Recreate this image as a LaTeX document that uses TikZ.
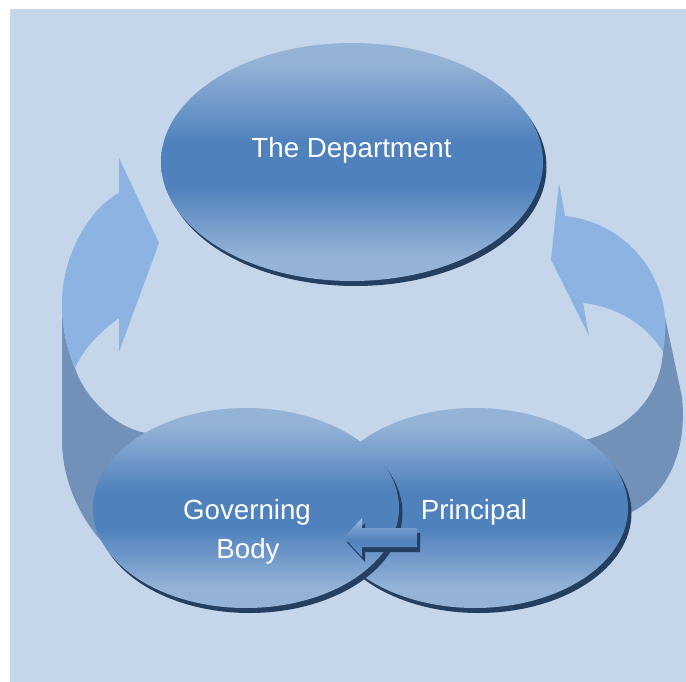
\documentclass[tikz,border=0pt]{standalone}
\usepackage{fontspec}
\setmainfont{Liberation Sans}
\usetikzlibrary{shapes.geometric}
\definecolor{bgc}{HTML}{C5D5EA}
\definecolor{arrL}{HTML}{8DB3E2}
\definecolor{arrD}{HTML}{7191B8}
\definecolor{ellL}{HTML}{95B3D7}
\definecolor{ellM}{HTML}{4F81BD}
\definecolor{shd}{HTML}{243F60}
\definecolor{smL}{HTML}{A9C3E3}
\definecolor{smM}{HTML}{4F81BD}
\pgfdeclareverticalshading{ellshade}{100bp}{color(0bp)=(ellL); color(30bp)=(ellL); color(45bp)=(ellM); color(54bp)=(ellM); color(71bp)=(ellL); color(100bp)=(ellL)}
\pgfdeclareverticalshading{smshade}{100bp}{color(0bp)=(smM); color(25bp)=(smM!85!white); color(45bp)=(smM); color(62bp)=(smM!80!white); color(75bp)=(smL); color(100bp)=(smL)}
\tikzset{
  ell/.style={ellipse, inner sep=0pt, shading=ellshade},
  txt/.style={text=white, font=\fontsize{27.7}{33}\selectfont, inner sep=0pt, anchor=base},
  shadowfill/.style={fill=shd},
  lightarrow/.style={fill=arrL},
  darkarrow/.style={fill=arrD}
}
\begin{document}
\begin{tikzpicture}[x=1pt,y=-1pt]
\useasboundingbox (0,0) rectangle (686,682);
\fill[white] (0,0) rectangle (686,682);
\fill[bgc] (10,9) rectangle (686,682);
% left curved arrow
\fill[darkarrow] (62,303) .. controls (62,330) and (68,352) .. (75,368)
  .. controls (82,392) and (112,428) .. (147,433) -- (200,500) -- (107,547)
  .. controls (80,520) and (62,480) .. (62,440) -- cycle;
\fill[lightarrow] (119,158) -- (159,243) -- (119,352) -- (119,318)
  .. controls (100,332) and (84,348) .. (75,368)
  .. controls (68,352) and (62,330) .. (62,303)
  .. controls (62,255) and (90,208) .. (119,193) -- cycle;
% right curved arrow
\fill[darkarrow] (665,317) -- (682,397) .. controls (687,445) and (672,492) .. (630,513)
  -- (560,500) -- (585,440) .. controls (625,430) and (660,400) .. (663,352) -- cycle;
\fill[lightarrow] (559,183) -- (551,260) -- (589,336) -- (583,303)
  .. controls (613,306) and (645,322) .. (663,352)
  .. controls (665,340) and (666,328) .. (665,317)
  .. controls (660,265) and (620,222) .. (565,216) -- cycle;
% department
\fill[shadowfill] (355.5,167) ellipse [x radius=191, y radius=119];
\node[ell, minimum width=382pt, minimum height=238pt] (dept) at (352,162) {};
% principal
\fill[shadowfill] (478.5,513) ellipse [x radius=153, y radius=100];
\node[ell, minimum width=306pt, minimum height=200pt] (prin) at (475,508) {};
% governing body
\fill[shadowfill] (249.5,513) ellipse [x radius=153, y radius=100];
\node[ell, minimum width=306pt, minimum height=200pt] (gov) at (246,508) {};
% small arrow
\fill[shadowfill] (347,542.5) -- (365,523) -- (365,533) -- (420,533) -- (420,552) -- (365,552) -- (365,562) -- cycle;
\shade[shading=smshade] (344,537.5) -- (362,518) -- (362,528) -- (417,528) -- (417,547) -- (362,547) -- (362,557) -- cycle;
% texts
\node[txt] (tdept) at (351.5,158) {The Department};
\node[txt] (tgov1) at (247,519) {Governing};
\node[txt] (tgov2) at (248,558) {Body};
\node[txt] (tprin) at (474,519) {Principal};
\end{tikzpicture}
\end{document}
